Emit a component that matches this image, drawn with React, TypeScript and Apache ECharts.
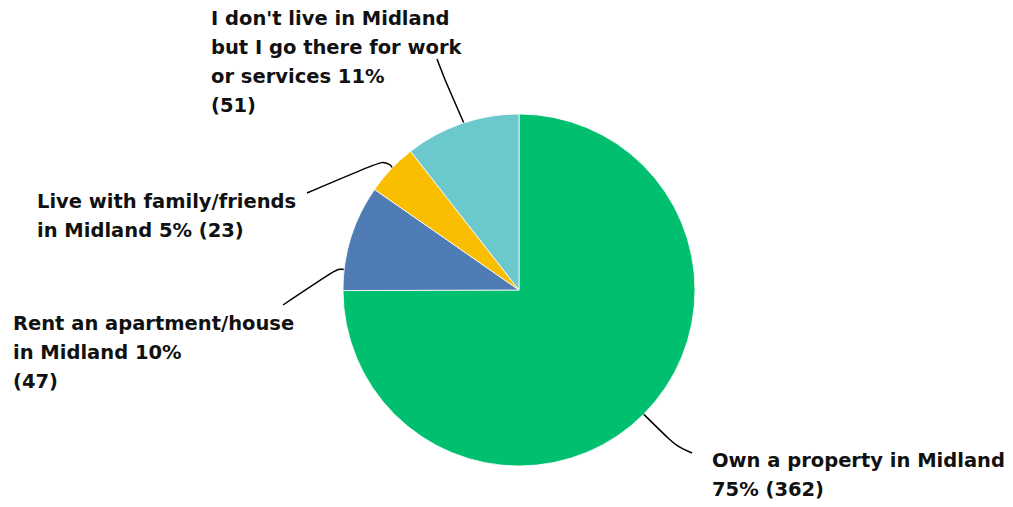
import React, { useEffect, useRef } from "react";
import * as echarts from "echarts";

const categories = [
  "Own a property in Midland",
  "Rent an apartment/house\nin Midland",
  "Live with family/friends\nin Midland",
  "I don't live in Midland\nbut I go there for work\nor services",
];
const counts = [362, 47, 23, 51];
const colors = ["#00BF6F", "#507CB6", "#F9BE00", "#6BC8CD"];
// separators used when wrapping each label (layout only)
const sepBeforePct = ["\n", " ", " ", " "];
const sepBeforeCount = [" ", "\n", " ", "\n"];
// label placement (top-left of text block) and label-line bend/end points
const labelPos = [
  [712, 446],
  [13, 309],
  [37, 187],
  [211, 4],
];
const lineStartShiftDeg = [0, -11.5, 0, 1];
const lineMid = [
  [676, 446],
  [340, 267],
  [387, 159],
  [445, 80],
];
const lineEnd = [
  [692, 453],
  [283, 305],
  [307, 193],
  [437, 59],
];

export default function App() {
  const ref = useRef<HTMLDivElement>(null);
  useEffect(() => {
    if (!ref.current) return;
    const chart = echarts.init(ref.current, null, { renderer: "svg" });
    const total = counts.reduce((a, b) => a + b, 0);
    chart.setOption({
      animation: false,
      backgroundColor: "#ffffff",
      series: [
        {
          type: "pie",
          center: [519, 290],
          radius: 176,
          startAngle: 90,
          clockwise: true,
          avoidLabelOverlap: false,
          itemStyle: { borderColor: "#ffffff", borderWidth: 0.8 },
          data: categories.map((name, i) => ({
            name,
            value: counts[i],
            itemStyle: { color: colors[i] },
          })),
          label: {
            show: true,
            color: "#111111",
            fontFamily: "'DejaVu Sans', sans-serif",
            fontWeight: "bold",
            fontSize: 19.5,
            lineHeight: 29,
            formatter: (p: any) => {
              const i = p.dataIndex;
              const pct = Math.round((counts[i] / total) * 100);
              return `${categories[i]}${sepBeforePct[i]}${pct}%${sepBeforeCount[i]}(${counts[i]})`;
            },
          },
          labelLine: {
            show: true,
            smooth: 0.35,
            length: 20,
            length2: 20,
            lineStyle: { color: "#000000", width: 1.5 },
          },
          labelLayout: (params: any) => {
            const i = params.dataIndex;
            const pts = params.labelLinePoints;
            let start = pts ? pts[0] : lineMid[i];
            if (pts) {
              const dx = start[0] - 519;
              const dy = start[1] - 290;
              const d = Math.sqrt(dx * dx + dy * dy) - 8;
              const a = Math.atan2(dy, dx) + (lineStartShiftDeg[i] * Math.PI) / 180;
              start = [519 + d * Math.cos(a), 290 + d * Math.sin(a)];
            }
            return {
              x: labelPos[i][0],
              y: labelPos[i][1],
              align: "left",
              verticalAlign: "top",
              labelLinePoints: [start, lineMid[i], lineEnd[i]],
            };
          },
        },
      ],
    });
    return () => chart.dispose();
  }, []);
  return (
    <div
      ref={ref}
      style={{ position: "absolute", left: 0, top: 0, width: 1013, height: 507 }}
    />
  );
}
